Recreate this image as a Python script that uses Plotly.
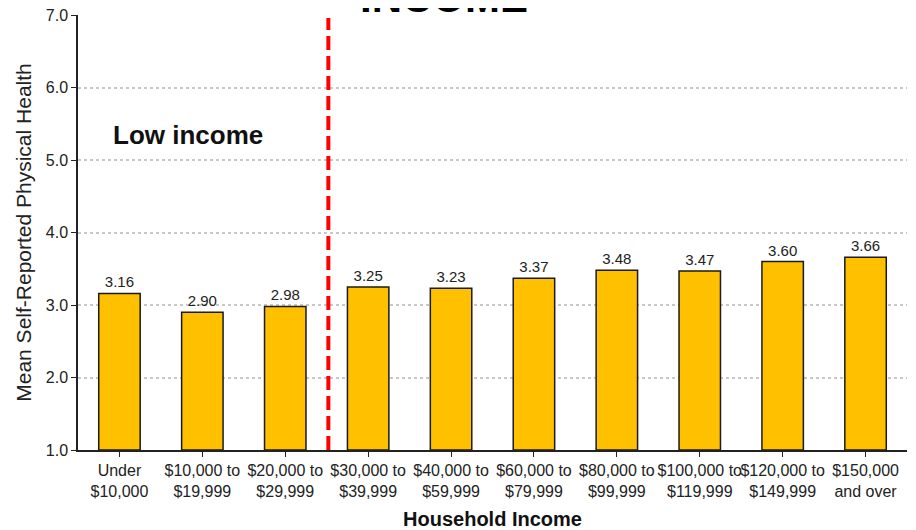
import plotly.graph_objects as go

categories = [
    "Under<br>$10,000", "$10,000 to<br>$19,999", "$20,000 to<br>$29,999",
    "$30,000 to<br>$39,999", "$40,000 to<br>$59,999", "$60,000 to<br>$79,999",
    "$80,000 to<br>$99,999", "$100,000 to<br>$119,999", "$120,000 to<br>$149,999",
    "$150,000<br>and over",
]
health = [3.16, 2.90, 2.98, 3.25, 3.23, 3.37, 3.48, 3.47, 3.60, 3.66]
y_ticks = [1, 2, 3, 4, 5, 6, 7]

FONT = "Liberation Sans, Arial, sans-serif"

fig = go.Figure()
fig.add_trace(go.Bar(
    x=list(range(len(categories))), y=[v - 1 for v in health], base=1,
    marker=dict(color="#FFC000", line=dict(color="#1a1a1a", width=1.5)),
    text=[f"{v:.2f}" for v in health], textposition="outside",
    textfont=dict(size=15, color="#222", family=FONT),
    cliponaxis=False, width=0.5,
))

# low-income cutoff
fig.add_shape(type="line", x0=2.52, x1=2.52, y0=1, y1=6.96,
              xref="x", yref="y", line=dict(color="#ff0000", width=4, dash="14px,6px"))

fig.add_annotation(x=0.83, y=5.34, xref="x", yref="y", text="<b>Low income</b>",
                   showarrow=False, font=dict(size=26, color="#111", family=FONT))
# chart title, cropped at the top edge as in the source image
fig.add_annotation(x=0.442, y=1.0, xref="paper", yref="paper", yshift=-8, yanchor="bottom",
                   text="<b>INCOME</b>", showarrow=False,
                   font=dict(size=42, color="#000", family=FONT))

fig.update_layout(
    width=908, height=522,
    margin=dict(l=70, r=9, t=7, b=80, autoexpand=False),
    plot_bgcolor="white", paper_bgcolor="white",
    showlegend=False,
    font=dict(family=FONT, size=16, color="#222"),
    xaxis=dict(
        tickmode="array", tickvals=list(range(len(categories))), ticktext=categories,
        range=[-0.5, len(categories) - 0.5],
        showline=True, linecolor="#222", linewidth=1.5,
        ticks="outside", ticklen=5, tickcolor="#222", tickson="boundaries",
        showgrid=False, tickangle=0, ticklabeloverflow="allow",
        title=dict(text="<b>Household Income</b>", font=dict(size=20, color="#111"), standoff=14),
        tickfont=dict(size=16),
    ),
    yaxis=dict(
        range=[1, 7], tickvals=y_ticks, ticktext=[f"{v:.1f}" for v in y_ticks],
        showline=True, linecolor="#222", linewidth=1.5,
        ticks="outside", ticklen=5, tickcolor="#222", ticklabeloverflow="allow",
        showgrid=True, gridcolor="#c8c8c8", griddash="dot", gridwidth=1.5,
        zeroline=False,
        title=dict(text="Mean Self-Reported Physical Health", font=dict(size=21, color="#222"), standoff=8),
        tickfont=dict(size=16),
    ),
)

fig.write_html("out.html")
